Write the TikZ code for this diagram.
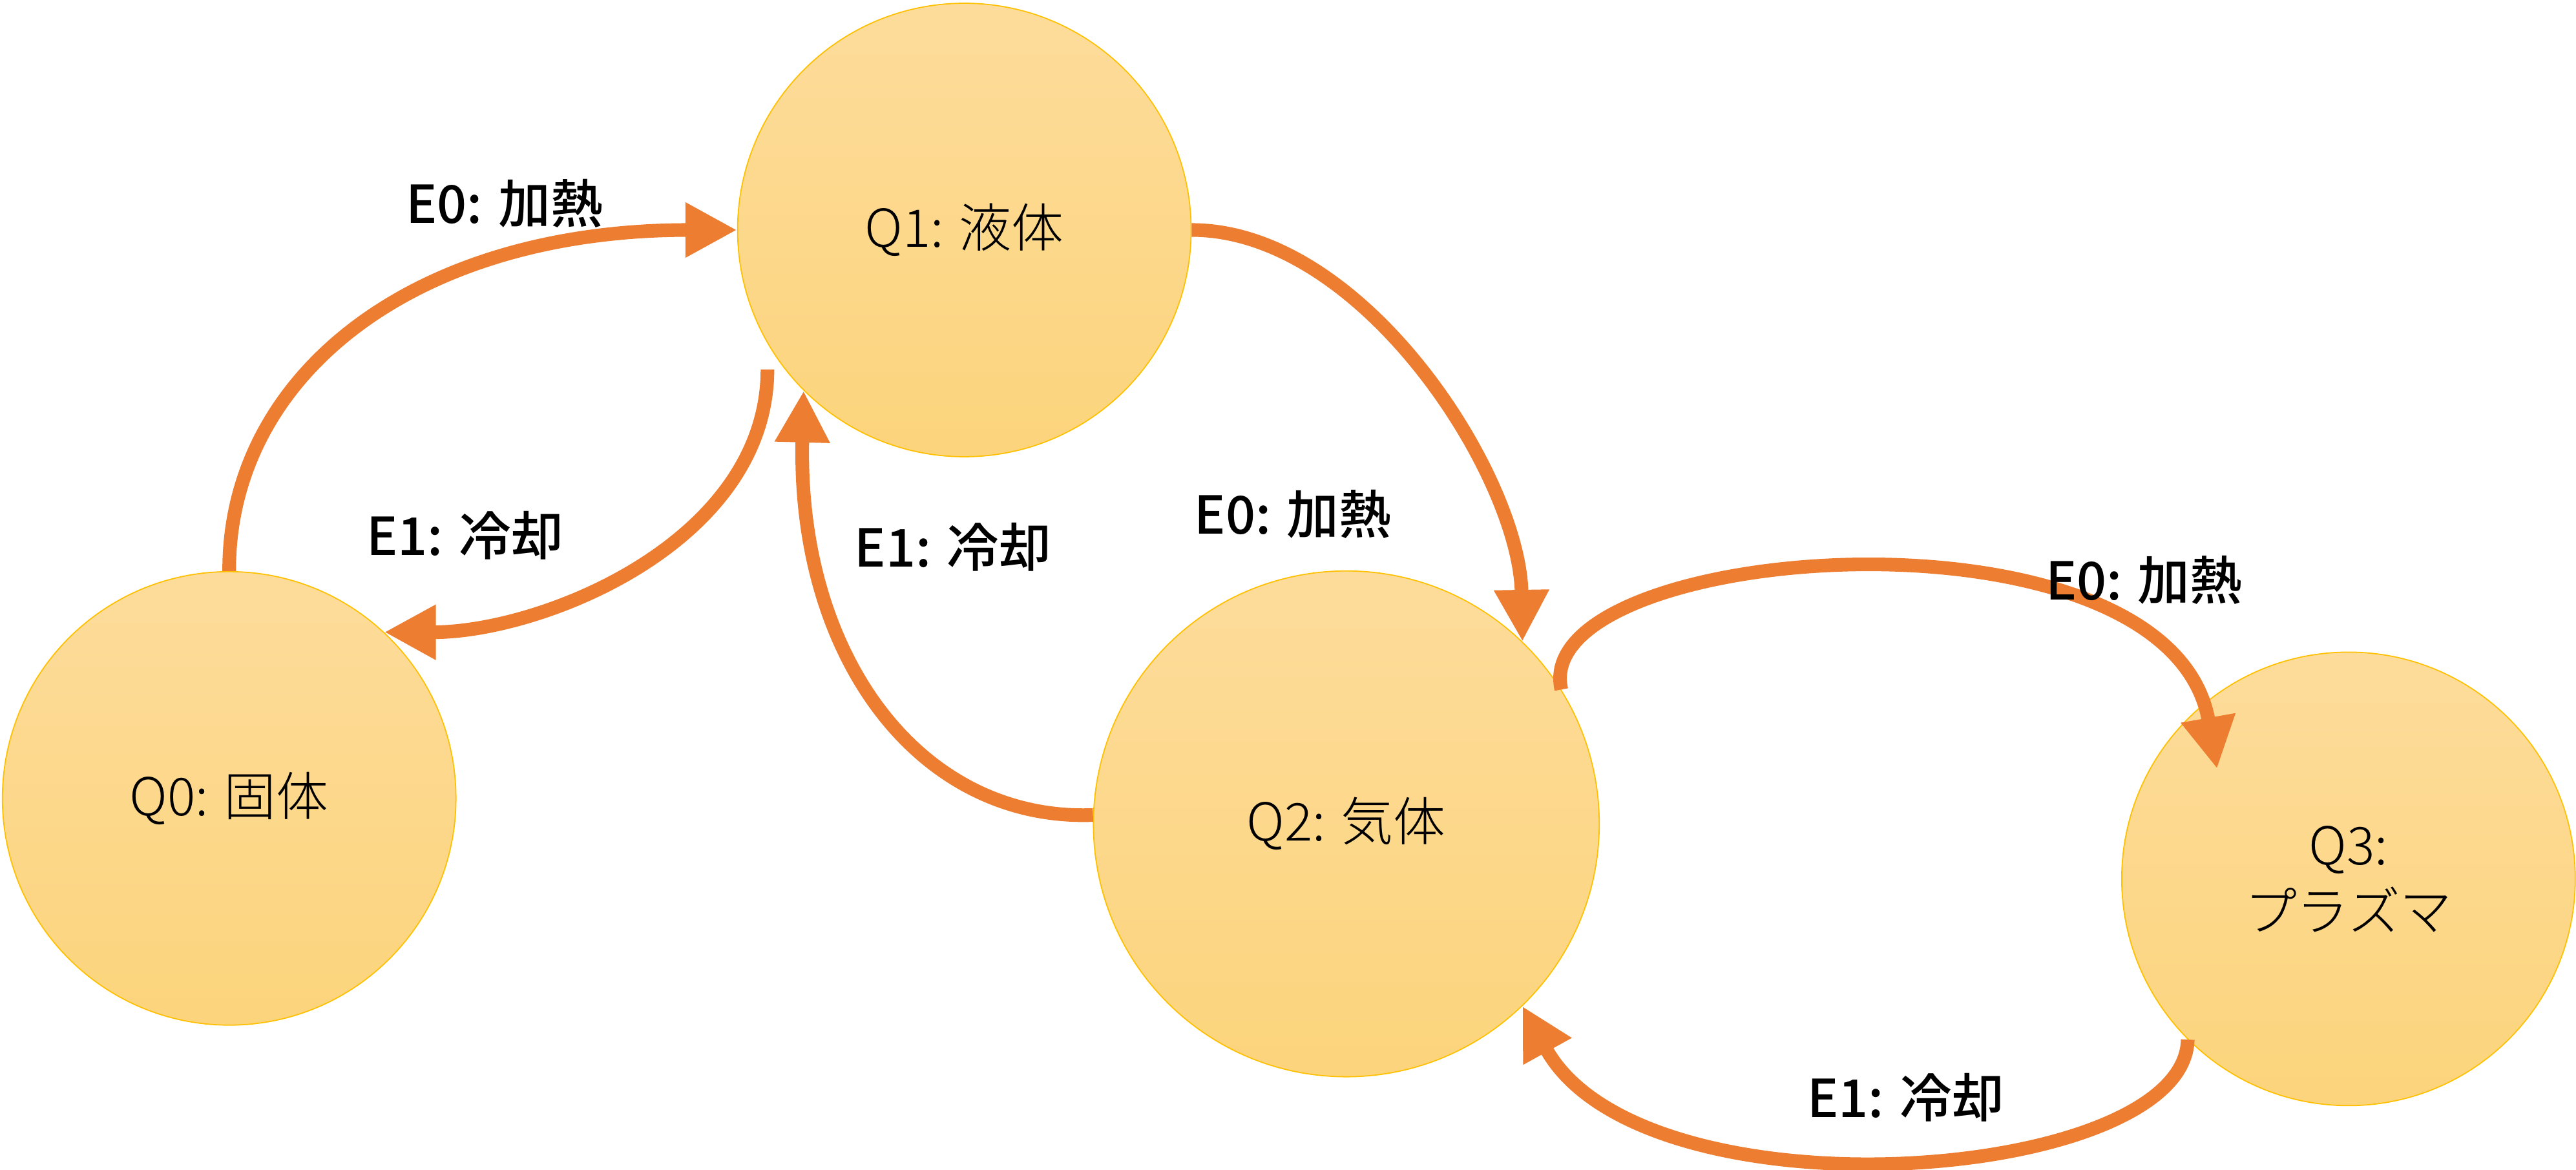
\documentclass[tikz,border=0pt]{standalone}
\usepackage{fontspec}
\setmainfont{Noto Sans CJK JP}
\newfontfamily\thinjp{Noto Sans CJK JP Light}
\newfontfamily\midjp{Noto Sans CJK JP Medium}
\usepackage{tikz}
\usetikzlibrary{arrows.meta,calc}

\definecolor{stateline}{HTML}{FFC000}
\definecolor{statetop}{HTML}{FDDC9B}
\definecolor{statebot}{HTML}{FCD47C}
\definecolor{arc}{HTML}{ED7D31}

\begin{document}
\begin{tikzpicture}[x=0.2543mm, y=-0.2543mm]
\tikzstyle{state}=[circle, draw=stateline, line width=0.5pt, top color=statetop, bottom color=statebot, minimum size=70.2mm, inner sep=0pt, font=\thinjp\fontsize{23}{29}\selectfont, align=center]
\tikzstyle{trans}=[draw=arc, line width=6pt, -{Triangle[length=8mm, width=8mm]}]
\tikzstyle{lbl}=[font=\midjp\fontsize{23}{29}\selectfont]
\useasboundingbox (0,0) rectangle (1568,712);
\node[state] (q0) at (139.5,486) {Q0: 固体};
\node[state] (q1) at (587,140) {Q1: 液体};
\node[state, minimum size=78.3mm] (q2) at (819.5,501.5) {Q2: 気体};
\node[state] (q3) at (1429.5,535) {Q3:\\プラズマ};
\draw[trans] (q0.90) .. controls (139,230) and (250,140) .. (q1.180);
\draw[trans, shorten <=4mm] (q1.210) .. controls (467,330) and (330,385) .. (q0.47);
\draw[trans] (q1.0) .. controls (830,140) and (925,290) .. (q2.46);
\draw[trans] (q2.178) .. controls (560,500) and (485,400) .. (q1.225);
\draw[trans] (q2.32) .. controls (930,330) and (1320,300) .. ($(q3)+(-80,-67)$);
\draw[trans] (q3.225) .. controls (1330,720) and (1000,745) .. (q2.314);
\node[lbl] (e01) at (307,124) {E0: 加熱};
\node[lbl] (e10) at (283,326) {E1: 冷却};
\node[lbl] (e12) at (787,313) {E0: 加熱};
\node[lbl] (e21) at (580,333) {E1: 冷却};
\node[lbl] (e23) at (1305,353) {E0: 加熱};
\node[lbl] (e32) at (1160,668) {E1: 冷却};
\end{tikzpicture}
\end{document}
